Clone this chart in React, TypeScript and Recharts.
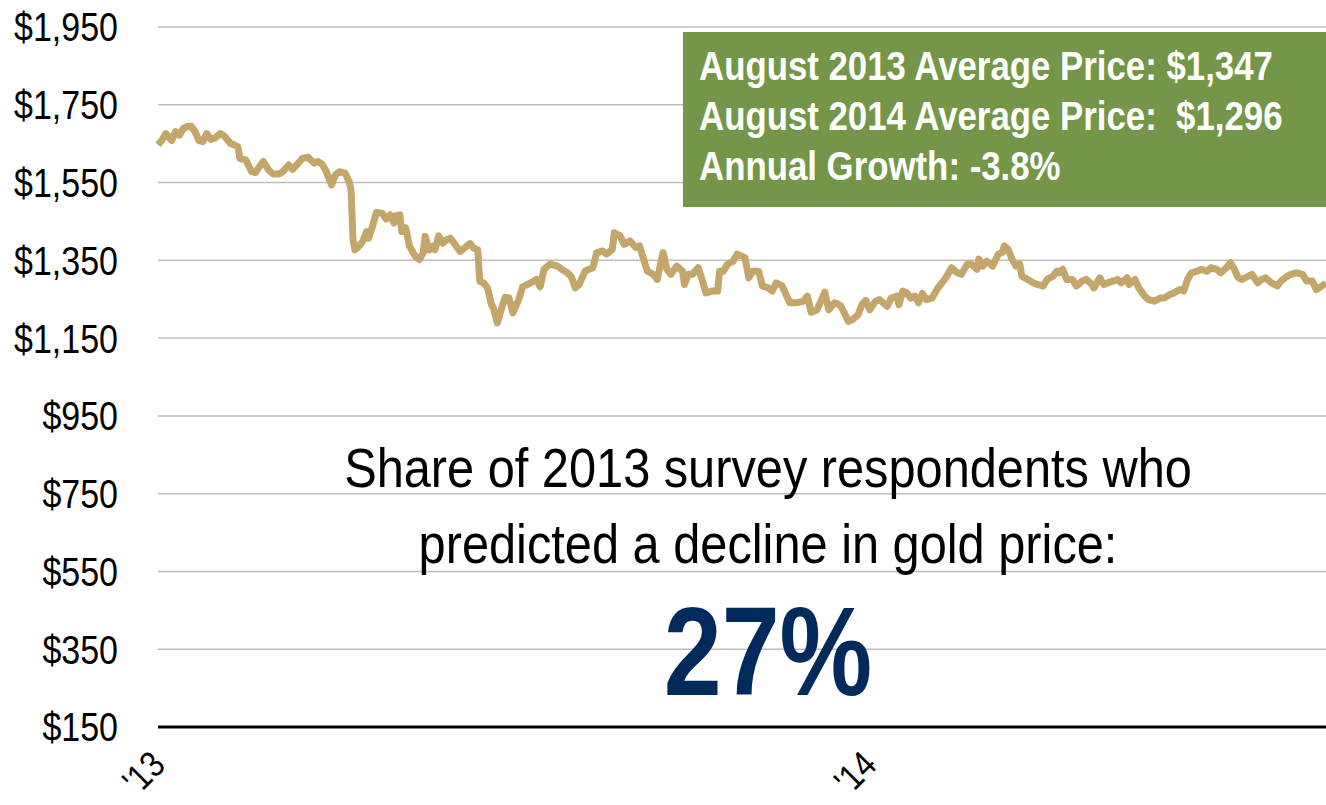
import { LineChart, Line, XAxis, YAxis, CartesianGrid } from 'recharts';

// days since Jan 1 2013
const days = [
  0, 2, 4, 7, 9, 11, 13, 15, 17, 19, 21, 23, 25, 27, 29, 32, 34, 37, 39, 41,
  42, 45, 48, 50, 52, 54, 57, 59, 62, 64, 67, 69, 72, 74, 77, 80, 82, 84, 86, 89,
  91, 93, 96, 98, 99, 100, 101, 103, 105, 107, 108, 110, 112, 115, 117, 119, 121, 122, 124, 125,
  127, 129, 132, 134, 136, 137, 139, 141, 142, 144, 146, 148, 150, 153, 155, 157, 160, 162, 164, 165,
  167, 169, 171, 172, 174, 176, 178, 180, 182, 185, 187, 191, 194, 196, 198, 201, 205, 207, 210, 212,
  214, 216, 219, 221, 223, 225, 228, 230, 233, 234, 237, 239, 242, 245, 247, 249, 251, 254, 256, 259,
  261, 263, 266, 269, 270, 272, 274, 277, 279, 281, 284, 287, 288, 290, 292, 295, 297, 301, 303, 305,
  308, 310, 313, 315, 317, 320, 324, 328, 331, 333, 335, 338, 340, 342, 344, 347, 350, 352, 354, 356,
  359, 361, 363, 365, 368, 370, 374, 376, 379, 380, 382, 384, 386, 388, 390, 392, 394, 397, 398, 400,
  402, 404, 407, 410, 412, 415, 417, 420, 421, 423, 425, 428, 431, 433, 434, 436, 438, 440, 442, 443,
  446, 449, 451, 454, 456, 459, 461, 462, 464, 466, 469, 471, 474, 476, 479, 480, 483, 485, 487, 490,
  492, 494, 497, 498, 501, 503, 506, 508, 511, 514, 516, 519, 521, 524, 526, 528, 530, 533, 535, 538,
  540, 543, 545, 548, 550, 552, 554, 556, 559, 561, 564, 566, 568, 571, 574, 576, 579, 581, 584, 587,
  589, 592, 594, 597, 599,
];

const prices = [
  1647, 1659, 1676, 1658, 1681, 1672, 1689, 1694, 1695, 1681, 1658, 1655, 1676, 1661, 1664, 1676, 1670, 1651, 1647, 1642,
  1612, 1608, 1578, 1576, 1591, 1604, 1581, 1572, 1572, 1578, 1595, 1584, 1600, 1612, 1615, 1600, 1604, 1598, 1582, 1544,
  1570, 1578, 1574, 1553, 1531, 1403, 1377, 1386, 1399, 1424, 1407, 1437, 1473, 1471, 1456, 1467, 1446, 1465, 1467, 1424,
  1433, 1386, 1360, 1352, 1369, 1412, 1377, 1386, 1377, 1413, 1394, 1403, 1407, 1386, 1373, 1381, 1393, 1381, 1377, 1296,
  1292, 1279, 1236, 1228, 1189, 1223, 1255, 1253, 1215, 1249, 1282, 1292, 1301, 1282, 1327, 1340, 1335, 1327, 1318, 1308,
  1279, 1288, 1322, 1327, 1331, 1370, 1374, 1366, 1378, 1421, 1413, 1391, 1400, 1383, 1387, 1353, 1322, 1314, 1301, 1370,
  1327, 1314, 1335, 1322, 1288, 1314, 1314, 1331, 1301, 1266, 1271, 1271, 1322, 1322, 1340, 1348, 1366, 1357, 1305, 1322,
  1322, 1284, 1279, 1271, 1292, 1285, 1241, 1241, 1245, 1258, 1216, 1223, 1245, 1268, 1223, 1241, 1234, 1215, 1193, 1197,
  1210, 1236, 1247, 1223, 1245, 1249, 1232, 1253, 1258, 1236, 1271, 1266, 1253, 1258, 1241, 1265, 1249, 1253, 1262, 1279,
  1292, 1305, 1331, 1318, 1314, 1340, 1340, 1327, 1353, 1335, 1348, 1335, 1366, 1370, 1387, 1378, 1353, 1335, 1340, 1309,
  1301, 1292, 1288, 1284, 1301, 1309, 1322, 1318, 1327, 1301, 1301, 1284, 1297, 1301, 1288, 1279, 1305, 1288, 1292, 1297,
  1301, 1292, 1305, 1288, 1301, 1279, 1258, 1249, 1245, 1253, 1253, 1262, 1266, 1275, 1271, 1301, 1318, 1322, 1327, 1322,
  1331, 1327, 1318, 1331, 1344, 1327, 1305, 1301, 1309, 1314, 1292, 1301, 1305, 1292, 1284, 1297, 1309, 1314, 1318, 1314,
  1297, 1297, 1275, 1284, 1292,
];

const priceTicks = [150, 350, 550, 750, 950, 1150, 1350, 1550, 1750, 1950];
const yearTicks = [0, 365];
const yearLabels = ["'13", "'14"];

const infoLines = [
  'August 2013 Average Price: $1,347',
  'August 2014 Average Price:  $1,296',
  'Annual Growth: -3.8%',
];
const surveyLines = ['Share of 2013 survey respondents who', 'predicted a decline in gold price:'];
const surveyShare = '27%';

// no narrow font installed, so squeeze Liberation Sans horizontally
const FONT = '"Liberation Sans", Arial, sans-serif';
const NARROW = 0.85;

const data = days.map((d, i) => ({ day: d, price: prices[i] }));

function PriceTick({ x, y, payload }: any) {
  return (
    <g transform={`translate(${x - 40},${y}) scale(${NARROW},1)`}>
      <text x={0} y={0} dy="0.36em" textAnchor="end" fontSize={40} fontFamily={FONT} fill="#000">
        {'$' + payload.value.toLocaleString('en-US')}
      </text>
    </g>
  );
}

function YearTick({ x, y, payload }: any) {
  const label = yearLabels[yearTicks.indexOf(payload.value)];
  return (
    <g transform={`translate(${x + 9},${y + 40}) rotate(-45) scale(${NARROW},1)`}>
      <text x={0} y={0} textAnchor="end" fontSize={37} fontFamily={FONT} fill="#000">
        {label}
      </text>
    </g>
  );
}

export default function App() {
  return (
    <div style={{ position: 'absolute', left: 0, top: 0, width: 1326, height: 805, background: '#fff', fontFamily: FONT }}>
      <LineChart width={1326} height={805} data={data} margin={{ top: 27, right: 0, bottom: 0, left: 0 }}>
        <CartesianGrid vertical={false} stroke="#BDBDBD" strokeWidth={1.5} />
        <XAxis
          dataKey="day"
          type="number"
          domain={[0, 599]}
          ticks={yearTicks}
          height={78}
          tickSize={0}
          tickMargin={0}
          tickLine={false}
          axisLine={{ stroke: '#000', strokeWidth: 3 }}
          tick={<YearTick />}
          interval={0}
        />
        <YAxis
          type="number"
          domain={[150, 1950]}
          ticks={priceTicks}
          width={158}
          tickSize={0}
          tickMargin={0}
          tickLine={false}
          axisLine={false}
          tick={<PriceTick />}
          interval={0}
        />
        <Line
          type="linear"
          dataKey="price"
          stroke="#C4A66B"
          strokeWidth={7}
          strokeLinejoin="round"
          dot={false}
          isAnimationActive={false}
        />
      </LineChart>

      <div
        style={{
          position: 'absolute',
          left: 683,
          top: 32,
          width: 643,
          height: 175,
          background: '#739649',
          color: '#fff',
          fontWeight: 'bold',
          fontSize: 40,
          lineHeight: '50px',
          padding: '9px 0 0 16px',
          boxSizing: 'border-box',
          whiteSpace: 'pre',
        }}
      >
        {infoLines.map((t) => (
          <div key={t} style={{ transform: 'scaleX(0.87)', transformOrigin: 'left center' }}>
            {t}
          </div>
        ))}
      </div>

      <div
        style={{
          position: 'absolute',
          left: 268,
          top: 430,
          width: 1000,
          textAlign: 'center',
          fontSize: 56,
          lineHeight: '76px',
          color: '#000',
          transform: 'scaleX(0.87)',
          transformOrigin: 'center',
        }}
      >
        {surveyLines.map((t) => (
          <div key={t}>{t}</div>
        ))}
      </div>

      <div
        style={{
          position: 'absolute',
          left: 268,
          top: 576,
          width: 1000,
          textAlign: 'center',
          fontSize: 127,
          lineHeight: '150px',
          fontWeight: 'bold',
          color: '#002A5C',
          transform: 'scaleX(0.82)',
          transformOrigin: 'center',
        }}
      >
        {surveyShare}
      </div>
    </div>
  );
}
